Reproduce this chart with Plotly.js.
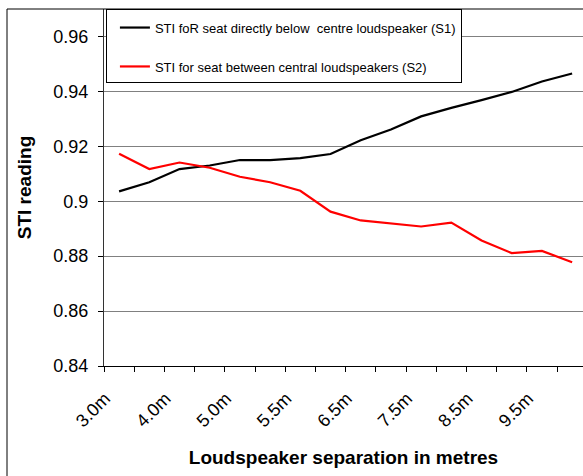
<!DOCTYPE html>
<html>
<head>
<meta charset="utf-8">
<script src="https://cdn.plot.ly/plotly-3.0.1.min.js"></script>
<style>html,body{margin:0;padding:0;background:#fff;}#chart{width:583px;height:476px;}</style>
</head>
<body>
<div id="chart"></div>
<script>
// Categories (loudspeaker separation)
var categories = ["3.0m","3.5m","4.0m","4.5m","5.0m","5.25m","5.5m","6.0m","6.5m","7.0m","7.5m","8.0m","8.5m","9.0m","9.5m","10.0m"];
// Tick labels shown on the axis (every other category)
var tickLabels = ["3.0m","","4.0m","","5.0m","","5.5m","","6.5m","","7.5m","","8.5m","","9.5m",""];
// Series values (STI readings)
var s1Values = [0.9036,0.9069,0.9117,0.9130,0.9150,0.9150,0.9157,0.9172,0.9222,0.9261,0.9309,0.9340,0.9368,0.9398,0.9436,0.9465];
var s2Values = [0.9173,0.9117,0.9141,0.9122,0.9089,0.9069,0.9038,0.8962,0.8930,0.8920,0.8908,0.8922,0.8857,0.8811,0.8819,0.8778];
var s1Name = "STI foR seat directly below  centre loudspeaker (S1)";
var s2Name = "STI for seat between central loudspeakers (S2)";

var font = "Liberation Sans, Arial, sans-serif";
var traces = [
  {x: categories, y: s1Values, type: "scatter", mode: "lines", name: s1Name, legendgroup: "a",
   line: {color: "#000000", width: 2.2}},
  {x: categories, y: s2Values, type: "scatter", mode: "lines", name: s2Name, legendgroup: "b",
   line: {color: "#ff0000", width: 2.2}}
];
var layout = {
  width: 583, height: 476,
  margin: {l: 104, r: 0, t: 9, b: 110},
  paper_bgcolor: "#ffffff", plot_bgcolor: "#ffffff",
  font: {family: font, color: "#000000"},
  showlegend: true,
  legend: {
    x: 0.004, y: 1, xanchor: "left", yanchor: "top",
    bgcolor: "#ffffff", bordercolor: "#000000", borderwidth: 1,
    font: {family: font, size: 13, color: "#000000"},
    indentation: 8,
    title: {text: " ", font: {family: font, size: 2}},
    traceorder: "grouped", tracegroupgap: 19
  },
  xaxis: {
    type: "category",
    range: [-0.5, 15.36],
    tickmode: "array", tickvals: categories, ticktext: tickLabels,
    tickson: "boundaries",
    ticks: "outside", ticklen: 5, tickcolor: "#000000",
    tickangle: -45,
    ticklabelstandoff: 14, ticklabelshift: -14,
    tickfont: {family: font, size: 18, color: "#000000"},
    showgrid: false, zeroline: false,
    showline: true, linecolor: "#000000", linewidth: 1,
    title: {text: "Loudspeaker separation in metres", font: {family: font, size: 19, color: "#000000", weight: "bold"}, standoff: 20}
  },
  yaxis: {
    range: [0.84, 0.97],
    tick0: 0.84, dtick: 0.02,
    ticks: "outside", ticklen: 5, tickcolor: "#000000",
    ticklabelstandoff: 6,
    tickfont: {family: font, size: 18, color: "#000000"},
    showgrid: true, gridcolor: "#808080", gridwidth: 1,
    zeroline: false,
    showline: true, linecolor: "#333333", linewidth: 1,
    title: {text: "STI reading", font: {family: font, size: 19, color: "#000000", weight: "bold"}, standoff: 16}
  },
  shapes: [
    {type: "rect", xref: "paper", yref: "paper", x0: -0.2025, x1: 1.1, y0: -0.5, y1: 1.0,
     line: {color: "#000000", width: 1}, fillcolor: "rgba(0,0,0,0)", layer: "above"}
  ]
};
Plotly.newPlot("chart", traces, layout, {displayModeBar: false, staticPlot: true});
</script>
</body>
</html>
